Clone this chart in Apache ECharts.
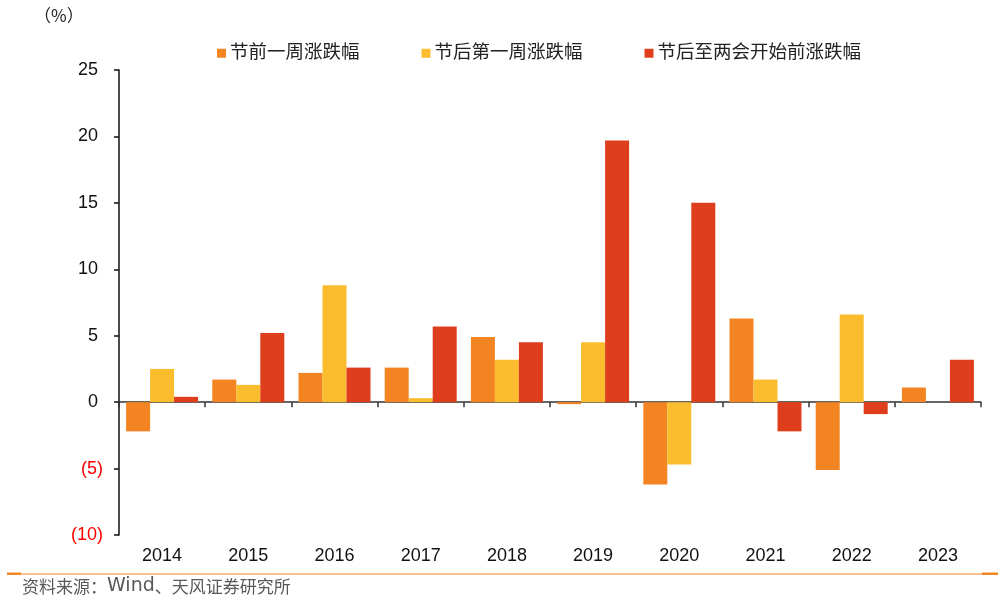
<!DOCTYPE html>
<html>
<head>
<meta charset="utf-8">
<script src="https://cdn.jsdelivr.net/npm/echarts@6/dist/echarts.min.js"></script>
<style>
  html, body { margin: 0; padding: 0; background: #fff; }
  #main { width: 1001px; height: 601px; }
</style>
</head>
<body>
<div id="main"></div>
<script>
var years = ['2014', '2015', '2016', '2017', '2018', '2019', '2020', '2021', '2022', '2023'];
var seriesNames = ['节前一周涨跌幅', '节后第一周涨跌幅', '节后至两会开始前涨跌幅'];
var beforeWeek = [-2.2, 1.7, 2.2, 2.6, 4.9, -0.15, -6.2, 6.3, -5.1, 1.1];
var afterWeek = [2.5, 1.3, 8.8, 0.3, 3.2, 4.5, -4.7, 1.7, 6.6, 0];
var beforeNPC = [0.4, 5.2, 2.6, 5.7, 4.5, 19.7, 15.0, -2.2, -0.9, 3.2];
var colors = ['#F38422', '#FBBD2D', '#DE3E1C'];

var chartDom = document.getElementById('main');
var myChart = echarts.init(chartDom);
var option;

var fontFamily = "'Liberation Sans', 'Noto Sans CJK SC', sans-serif";
var cjkFont = "'Noto Sans CJK SC', sans-serif";

option = {
    animation: false,
    color: colors,
    textStyle: { fontFamily: fontFamily },
    legend: {
        top: 44,
        left: 217,
        padding: 0,
        itemWidth: 9,
        itemHeight: 9,
        itemGap: 62,
        icon: 'rect',
        textStyle: {
            color: '#222',
            fontSize: 18.5,
            padding: [0, 0, 0, -1]
        },
        data: seriesNames
    },
    grid: {
        left: 119,
        right: 20,
        top: 70,
        bottom: 66
    },
    xAxis: [
        {
            type: 'category',
            data: years,
            axisLine: { onZero: true, lineStyle: { color: '#333', width: 1.5 } },
            axisTick: { show: true, length: 5, lineStyle: { color: '#333', width: 1.5 } },
            axisLabel: { show: false }
        },
        {
            type: 'category',
            data: years,
            position: 'bottom',
            axisLine: { show: false, onZero: false },
            axisTick: { show: false },
            axisLabel: {
                color: '#111',
                fontSize: 18,
                margin: 12
            }
        }
    ],
    yAxis: {
        type: 'value',
        min: -10,
        max: 25,
        interval: 5,
        splitLine: { show: false },
        axisLine: { show: true, lineStyle: { color: '#111', width: 1.5 } },
        axisTick: { show: true, length: 5, lineStyle: { color: '#111', width: 1.5 } },
        axisLabel: {
            fontSize: 18,
            margin: 16,
            formatter: function (v) {
                return v < 0 ? '(' + Math.abs(v) + ')' : v + ' ';
            },
            color: function (v) {
                return Number(v) < 0 ? '#FF0000' : '#111';
            }
        }
    },
    graphic: [
        {
            type: 'text',
            left: 34,
            top: 7,
            style: { text: '（%）', fontSize: 17, fill: '#222', fontFamily: cjkFont }
        },
        {
            type: 'rect',
            shape: { x: 7, y: 573.5, width: 991, height: 1 },
            style: { fill: '#F38422' }
        },
        {
            type: 'rect',
            shape: { x: 7, y: 572.5, width: 14, height: 2.5 },
            style: { fill: '#F38422' }
        },
        {
            type: 'rect',
            shape: { x: 982, y: 572.5, width: 16, height: 2.5 },
            style: { fill: '#F38422' }
        },
        {
            type: 'text',
            left: 22,
            top: 577,
            style: {
                text: '资料来源：{w|Wind}、天风证券研究所',
                fontSize: 17,
                fill: '#595959',
                fontFamily: cjkFont,
                rich: {
                    w: { fontFamily: "'DejaVu Sans', sans-serif", fontSize: 19, fill: '#595959' }
                }
            }
        }
    ],
    series: [
        {
            name: seriesNames[0],
            type: 'bar',
            barWidth: 24,
            barGap: '0%',
            data: beforeWeek
        },
        {
            name: seriesNames[1],
            type: 'bar',
            barWidth: 24,
            barGap: '0%',
            data: afterWeek
        },
        {
            name: seriesNames[2],
            type: 'bar',
            barWidth: 24,
            barGap: '0%',
            data: beforeNPC
        }
    ]
};

option && myChart.setOption(option);
</script>
</body>
</html>
